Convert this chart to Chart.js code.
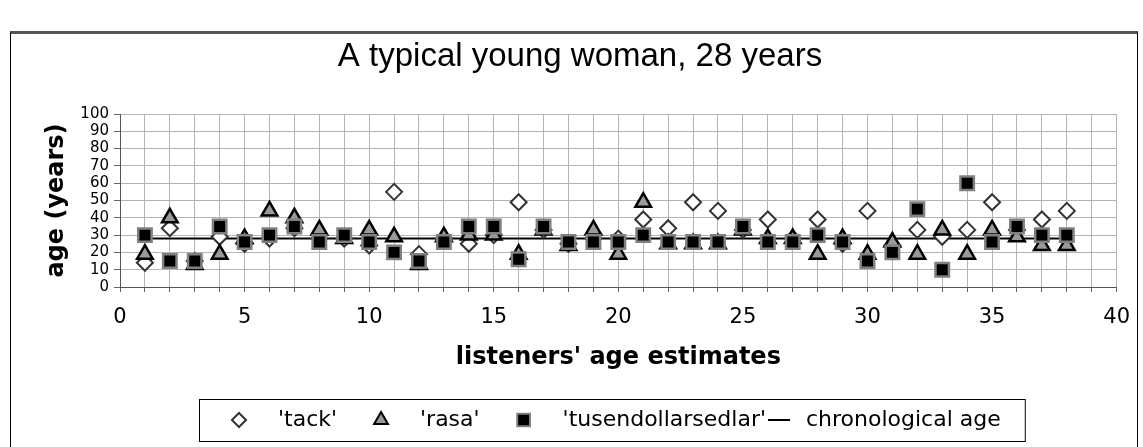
<!DOCTYPE html>
<html>
<head>
<meta charset="utf-8">
<script src="https://cdn.jsdelivr.net/npm/chart.js@4.4.1/dist/chart.umd.min.js"></script>
<style>
  html, body { margin: 0; padding: 0; background: #fff; }
  #wrap { position: relative; width: 1143px; height: 447px; overflow: hidden; }
  #frame { position: absolute; left: 10px; top: 31px; width: 1128px; height: 450px;
           border: 1px solid #000; border-top: 3px solid #555; box-sizing: border-box; }
  canvas { position: absolute; left: 0; top: 0; }
</style>
</head>
<body>
<div id="wrap">
  <div id="frame"></div>
  <canvas id="ageChart" width="1143" height="447"></canvas>
</div>
<script>
// listener number on the x axis
const listeners = [1, 2, 3, 4, 5, 6, 7, 8, 9, 10, 11, 12, 13, 14, 15, 16, 17, 18, 19,
  20, 21, 22, 23, 24, 25, 26, 27, 28, 29, 30, 31, 32, 33, 34, 35, 36, 37, 38];

// age estimates per stimulus word
const tack = [14, 34, 15, 29, 25, 28, 34, 28, 28, 24, 55, 19, 28, 25, 30, 49, 33, 25, 28,
  28, 39, 34, 49, 44, 33, 39, 28, 39, 25, 44, 24, 33, 29, 33, 49, 33, 39, 44];
const rasa = [19, 40, 13, 19, 28, 44, 40, 33, 28, 33, 29, 13, 29, 30, 30, 19, 33, 24, 33,
  19, 49, 25, 25, 25, 33, 28, 28, 19, 28, 19, 26, 19, 33, 19, 33, 29, 24, 24];
const tusen = [30, 15, 15, 35, 26, 30, 35, 26, 30, 26, 20, 15, 26, 35, 35, 16, 35, 26, 26,
  26, 30, 26, 26, 26, 35, 26, 26, 30, 26, 15, 20, 45, 10, 60, 26, 35, 30, 30];

const chronoAge = 28;
const chronoSpan = [1, 38];

const seriesNames = ["'tack'", "'rasa'", "'tusendollarsedlar'", 'chronological age'];
const xTicks = [0, 5, 10, 15, 20, 25, 30, 35, 40];

const toPoints = vals => vals.map((v, i) => ({ x: listeners[i], y: v }));

const padLeft = 40;
const plotLeft = 120;

// legend drawn in a box under the axis title, like the spreadsheet original
const boxedLegend = {
  id: 'boxedLegend',
  afterDraw(chart) {
    const ctx = chart.ctx;
    const sets = chart.data.datasets;
    const cy = 420;
    ctx.save();
    ctx.font = '22px "DejaVu Sans"';
    ctx.textBaseline = 'middle';

    const left = 199;
    let x = left + 40;
    sets.forEach(ds => {
      const w = ctx.measureText(ds.label).width;
      if (ds.pointStyle === 'line') {
        ctx.strokeStyle = ds.borderColor;
        ctx.lineWidth = 2;
        ctx.beginPath();
        ctx.moveTo(x - 42, cy);
        ctx.lineTo(x - 20, cy);
        ctx.stroke();
        ctx.fillStyle = '#000';
        ctx.fillText(ds.label, x - 4, cy);
        x += w - 4;
      } else {
        ctx.fillStyle = ds.backgroundColor;
        ctx.strokeStyle = ds.borderColor;
        ctx.lineWidth = 2;
        Chart.helpers.drawPoint(ctx, {
          pointStyle: ds.pointStyle,
          radius: ds.pointStyle === 'rect' ? 9 : (ds.pointStyle === 'triangle' ? 8 : 7),
          rotation: 0,
          borderWidth: 2
        }, x, cy);
        ctx.fillStyle = '#000';
        ctx.fillText(ds.label, x + 39, cy);
        x += 39 + w + 44;
      }
    });
    const right = x + 24;
    ctx.strokeStyle = '#000';
    ctx.lineWidth = 1;
    ctx.strokeRect(left + 0.5, cy - 20.5, right - left, 42);
    ctx.restore();
  }
};

new Chart(document.getElementById('ageChart'), {
  type: 'scatter',
  data: {
    datasets: [
      {
        label: seriesNames[0],
        data: toPoints(tack),
        pointStyle: 'rectRot',
        pointRadius: 8,
        backgroundColor: '#fff',
        borderColor: '#333',
        borderWidth: 2,
        order: 3
      },
      {
        label: seriesNames[1],
        data: toPoints(rasa),
        pointStyle: 'triangle',
        pointRadius: 9,
        backgroundColor: '#999',
        borderColor: '#000',
        borderWidth: 2.5,
        order: 2
      },
      {
        label: seriesNames[2],
        data: toPoints(tusen),
        pointStyle: 'rect',
        pointRadius: 9.5,
        backgroundColor: '#000',
        borderColor: '#808080',
        borderWidth: 2.5,
        order: 1
      },
      {
        type: 'line',
        label: seriesNames[3],
        data: chronoSpan.map(x => ({ x, y: chronoAge })),
        pointStyle: 'line',
        pointRadius: 0,
        borderColor: '#000',
        borderWidth: 2,
        showLine: true,
        fill: false,
        order: 4
      }
    ]
  },
  options: {
    responsive: false,
    animation: false,
    devicePixelRatio: 1,
    events: [],
    layout: { padding: { left: padLeft, right: 23, top: 0, bottom: 60 } },
    plugins: {
      legend: { display: false },
      tooltip: { enabled: false },
      title: {
        display: true,
        text: 'A typical young woman, 28 years',
        color: '#000',
        font: { family: '"Liberation Sans"', size: 33, weight: 'normal' },
        padding: { top: 37, bottom: 37.4 }
      }
    },
    scales: {
      x: {
        type: 'linear',
        min: 0,
        max: 40,
        afterBuildTicks: scale => {
          scale.ticks = listeners.concat([0, 39, 40]).sort((a, b) => a - b)
            .map(v => ({ value: v }));
        },
        afterFit: scale => { scale.height = 100; },
        ticks: {
          autoSkip: false,
          maxRotation: 0,
          padding: 13,
          color: '#000',
          font: { family: '"DejaVu Sans"', size: 21 },
          callback: v => (xTicks.includes(v) ? String(v) : '')
        },
        grid: { color: '#b4b4b4', lineWidth: 1, tickLength: 5, tickColor: '#666' },
        border: { color: '#555', width: 1 },
        title: {
          display: true,
          text: "listeners' age estimates",
          color: '#000',
          font: { family: '"DejaVu Sans"', size: 24, weight: 'bold' },
          padding: { top: 0, bottom: 14.6 }
        }
      },
      y: {
        min: 0,
        max: 100,
        afterFit: scale => { scale.width = plotLeft - padLeft; },
        ticks: {
          stepSize: 10,
          autoSkip: false,
          padding: 5,
          color: '#000',
          font: { family: '"DejaVu Sans"', size: 15 }
        },
        grid: { color: '#b4b4b4', lineWidth: 1, tickLength: 6, tickColor: '#666' },
        border: { color: '#555', width: 1 },
        title: {
          display: true,
          text: 'age (years)',
          color: '#000',
          font: { family: '"DejaVu Sans"', size: 24, weight: 'bold' },
          padding: { top: 2.6, bottom: 0 }
        }
      }
    }
  },
  plugins: [boxedLegend]
});
</script>
</body>
</html>
